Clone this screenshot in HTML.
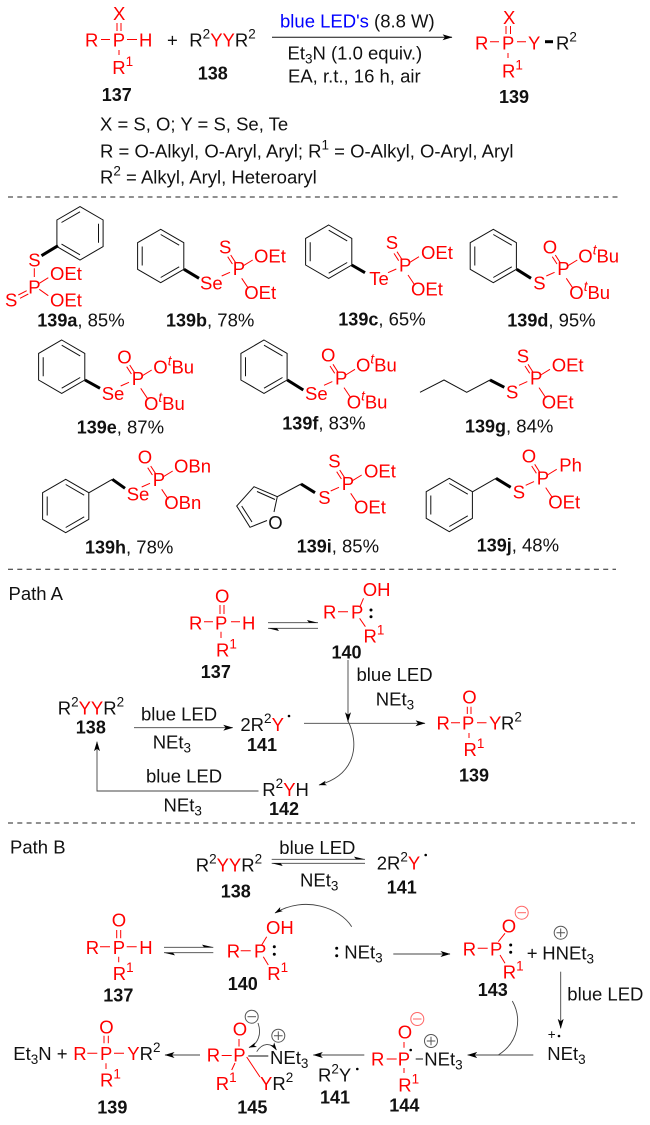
<!DOCTYPE html>
<html><head><meta charset="utf-8"><style>
html,body{margin:0;padding:0;background:#fff}
svg{display:block;filter:blur(.3px)}
text{font-family:"Liberation Sans",sans-serif;font-size:18.5px;fill:#111;white-space:pre}
.r,.r tspan{fill:#f00}
.r .k{fill:#111}
.b{font-weight:bold;font-size:18px}
.s{font-size:13.5px}
.l{stroke:#111;stroke-width:1;fill:none}
.g{stroke:#444;stroke-width:.9;fill:none}
.p{stroke:#f00;stroke-width:1;fill:none}
.w{stroke:#000;stroke-width:3;fill:none}
.d{stroke:#222;stroke-width:1;stroke-dasharray:5 4.3;fill:none}
</style></head><body>
<svg width="650" height="1125" viewBox="0 0 650 1125" xmlns="http://www.w3.org/2000/svg">
<defs>
<marker id="a" viewBox="0 0 10 6" refX="9.5" refY="3" markerWidth="10" markerHeight="6" markerUnits="userSpaceOnUse" orient="auto"><path d="M0 0L10 3L0 6L2.5 3z" fill="#000"/></marker>
<marker id="c" viewBox="0 0 10 6" refX="9.5" refY="3" markerWidth="8" markerHeight="5" markerUnits="userSpaceOnUse" orient="auto"><path d="M0 0L10 3L0 6L2.5 3z" fill="#000"/></marker>
<g id="bA"><path class="l" d="M0-26.7L23.1-13.3V13.3L0 26.7L-23.1 13.3V-13.3Z M0-21.5L18.5-10.8 M-18.5-9.5V9.5 M0 21.5L18.5 10.8"/></g>
<g id="bB"><path class="l" d="M0-26.7L23.1-13.3V13.3L0 26.7L-23.1 13.3V-13.3Z M0-21.5L-18.5-10.8 M18.5-9.5V9.5 M0 21.5L-18.5 10.8"/></g>
<path id="pg" class="p" d="M-5-18.3L-.3-11M-2-20L2.7-12.7M10.7-9.3L20-15M9 3.3L15.7 13.3M-11 1L-2.7-2.7"/>
</defs>

<!-- top scheme -->
<text class="r" x="85" y="46.500">R</text><text class="r" x="112.700" y="46.500">P</text><text class="r" x="139" y="46.500">H</text>
<text class="r" x="113" y="20">X</text>
<text class="r" x="112.300" y="74">R<tspan class="s" dy="-8">1</tspan></text>
<path class="p" d="M117 23V31M121 23V31M101 39.500H110M127 39.500H137M119 50V55"/>
<text class="b" x="101.700" y="101">137</text>
<text x="167" y="46.500">+</text>
<text x="189.300" y="46.500">R<tspan class="s" dy="-8">2</tspan><tspan class="r" dy="8">YY</tspan>R<tspan class="s" dy="-8">2</tspan></text>
<text class="b" x="197.700" y="79.300">138</text>
<path class="l" d="M272 37.300H452" marker-end="url(#a)"/>
<text x="280" y="27.700"><tspan style="fill:#00f">blue LED's</tspan> (8.8 W)</text>
<text x="287.500" y="59.300">Et<tspan class="s" dy="4">3</tspan><tspan dy="-4">N (1.0 equiv.)</tspan></text>
<text x="288" y="82.700">EA, r.t., 16 h, air</text>
<text class="r" x="475" y="49.300">R</text><text class="r" x="502" y="49.300">P</text><text class="r" x="528" y="49.300">Y</text>
<text class="r" x="503" y="24">X</text>
<text x="556" y="49.300">R<tspan class="s" dy="-8">2</tspan></text>
<text class="r" x="502" y="77.300">R<tspan class="s" dy="-8">1</tspan></text>
<path class="p" d="M506 26V34M510.500 26V34M490 41.700H499M517 41.700H526M508 53V58"/>
<path class="w" d="M545 41.700H553"/>
<text class="b" x="499" y="103">139</text>
<text x="100" y="130.700">X = S, O; Y = S, Se, Te</text>
<text x="100" y="157.300">R = O-Alkyl, O-Aryl, Aryl; R<tspan class="s" dy="-8">1</tspan><tspan dy="8"> = O-Alkyl, O-Aryl, Aryl</tspan></text>
<text x="100" y="183.300">R<tspan class="s" dy="-8">2</tspan><tspan dy="8"> = Alkyl, Aryl, Heteroaryl</tspan></text>
<path class="d" d="M8 197H618"/>

<!-- 139a -->
<use href="#bB" x="80" y="233.300"/>
<path class="w" d="M58 245.700L41.500 255.700"/>
<text class="r" x="28.300" y="266.700">S</text><text class="r" x="28.300" y="293.300">P</text>
<text class="r" x="50" y="280">OEt</text><text class="r" x="50" y="306.700">OEt</text><text class="r" x="5" y="306.700">S</text>
<path class="p" d="M34.300 268.300V277M39.300 283.300L48.300 277.700M39.300 289.300L48.300 295.700M18.300 295L26.700 290.700M20 298.300L28.300 294"/>
<text x="37.300" y="326.700"><tspan class="b">139a</tspan>, 85%</text>

<!-- 139b -->
<use href="#bA" x="160.700" y="256"/>
<path class="w" d="M184 269.300L199 278.300"/>
<use href="#pg" x="232.700" y="275"/>
<text class="r" x="200" y="289.300">Se</text><text class="r" x="232.700" y="275">P</text><text class="r" x="219" y="253.300">S</text>
<text class="r" x="254" y="262.300">OEt</text><text class="r" x="244.300" y="299">OEt</text>
<text x="166" y="326.700"><tspan class="b">139b</tspan>, 78%</text>

<!-- 139c -->
<use href="#bA" x="328.700" y="251.700"/>
<path class="w" d="M351.700 265L365 272.700"/>
<use href="#pg" x="399" y="271.700"/>
<text class="r" x="369.300" y="285">Te</text><text class="r" x="399" y="271.700">P</text><text class="r" x="385.700" y="249">S</text>
<text class="r" x="421" y="259">OEt</text><text class="r" x="411" y="295.700">OEt</text>
<text x="338.300" y="325.700"><tspan class="b">139c</tspan>, 65%</text>

<!-- 139d -->
<use href="#bA" x="493.300" y="256"/>
<path class="w" d="M516.700 269.300L531 278.300"/>
<use href="#pg" x="557.300" y="275"/>
<text class="r" x="533.300" y="289.300">S</text><text class="r" x="557.300" y="275">P</text><text class="r" x="542.700" y="253.300">O</text>
<text class="r" x="578.300" y="262.300">O<tspan class="s" dy="-8" font-style="italic">t</tspan><tspan dy="8">Bu</tspan></text>
<text class="r" x="569.300" y="299">O<tspan class="s" dy="-8" font-style="italic">t</tspan><tspan dy="8">Bu</tspan></text>
<text x="507.300" y="326.700"><tspan class="b">139d</tspan>, 95%</text>

<!-- 139e -->
<use href="#bA" x="61.700" y="366.700"/>
<path class="w" d="M85 380L100 388.300"/>
<use href="#pg" x="131.700" y="385"/>
<text class="r" x="101.700" y="400">Se</text><text class="r" x="131.700" y="385">P</text><text class="r" x="117.300" y="363.300">O</text>
<text class="r" x="153.300" y="373.300">O<tspan class="s" dy="-8" font-style="italic">t</tspan><tspan dy="8">Bu</tspan></text>
<text class="r" x="144" y="410">O<tspan class="s" dy="-8" font-style="italic">t</tspan><tspan dy="8">Bu</tspan></text>
<text x="76.700" y="433.300"><tspan class="b">139e</tspan>, 87%</text>

<!-- 139f -->
<use href="#bA" x="264" y="366.700"/>
<path class="w" d="M287.300 380L303.300 390"/>
<use href="#pg" x="335" y="384.300"/>
<text class="r" x="305" y="400">Se</text><text class="r" x="335" y="384.300">P</text><text class="r" x="321" y="361.700">O</text>
<text class="r" x="356" y="371.700">O<tspan class="s" dy="-8" font-style="italic">t</tspan><tspan dy="8">Bu</tspan></text>
<text class="r" x="346.700" y="408.300">O<tspan class="s" dy="-8" font-style="italic">t</tspan><tspan dy="8">Bu</tspan></text>
<text x="282.300" y="429.300"><tspan class="b">139f</tspan>, 83%</text>

<!-- 139g -->
<path class="l" d="M420 392.300L444 380L466.700 392.300L490 380"/>
<path class="w" d="M490 380L504.300 387.300"/>
<use href="#pg" x="530" y="384.300"/>
<text class="r" x="506" y="398.300">S</text><text class="r" x="530" y="384.300">P</text><text class="r" x="516.700" y="362.700">S</text>
<text class="r" x="551.700" y="371.700">OEt</text><text class="r" x="541.700" y="408.300">OEt</text>
<text x="465" y="432.700"><tspan class="b">139g</tspan>, 84%</text>

<!-- 139h -->
<use href="#bA" x="65.700" y="506"/>
<path class="l" d="M89 492.700L112.300 479.300"/>
<path class="w" d="M112.300 479.300L125 488.300"/>
<use href="#pg" x="152.700" y="486"/>
<text class="r" x="126.700" y="500.700">Se</text><text class="r" x="152.700" y="486">P</text><text class="r" x="137.700" y="463.300">O</text>
<text class="r" x="174" y="472.700">OBn</text><text class="r" x="164.300" y="509">OBn</text>
<text x="85" y="553.300"><tspan class="b">139h</tspan>, 78%</text>

<!-- 139i -->
<path class="l" d="M267 520.500L250 527.300L236.700 506L254 486.700L277.300 496.700L274 512M241.700 506L252 522M257 491.500L275 499.500M277.300 496.700L301 484"/>
<path class="w" d="M301 484L315 492.700"/>
<text x="268.300" y="529">O</text>
<use href="#pg" x="341.700" y="490"/>
<text class="r" x="318.300" y="504">S</text><text class="r" x="341.700" y="490">P</text><text class="r" x="328.300" y="467.300">S</text>
<text class="r" x="364" y="477.300">OEt</text><text class="r" x="354" y="513.300">OEt</text>
<text x="296.700" y="552.700"><tspan class="b">139i</tspan>, 85%</text>

<!-- 139j -->
<use href="#bA" x="449.300" y="505"/>
<path class="l" d="M472.700 491.700L496 478.300"/>
<path class="w" d="M496 478.300L510.700 487.300"/>
<use href="#pg" x="536.700" y="484.300"/>
<text class="r" x="512.700" y="498.300">S</text><text class="r" x="536.700" y="484.300">P</text><text class="r" x="521.700" y="462.300">O</text>
<text class="r" x="559.300" y="471.700">Ph</text><text class="r" x="548.300" y="508.300">OEt</text>
<text x="476.700" y="551.700"><tspan class="b">139j</tspan>, 48%</text>

<path class="d" d="M8 569.300H616"/>

<!-- Path A -->
<text x="8.500" y="600">Path A</text>
<text class="r" x="189" y="629.300">R</text><text class="r" x="215" y="629.300">P</text><text class="r" x="242" y="629.300">H</text>
<text class="r" x="215" y="602.300">O</text>
<text class="r" x="216" y="656.700">R<tspan class="s" dy="-8">1</tspan></text>
<path class="p" d="M220 605V614M224 605V614M204 621.700H213M231 621.700H240M221 631.700V638"/>
<text class="b" x="200.800" y="678">137</text>
<path class="g" d="M268 622.700H318M268 628.300H318"/>
<path d="M318 622.700L307 620L309 622.700Z M268 628.300L279 631L277 628.300Z" fill="#000"/>
<text class="r" x="323" y="618.300">R</text><text class="r" x="351" y="618.300">P</text><text class="r" x="362.700" y="596">OH</text>
<text class="r" x="363.500" y="642.700">R<tspan class="s" dy="-8">1</tspan></text>
<path class="p" d="M338 611.700H348M360 606.700L363.500 598.300M359.600 618.300L365.400 626.700"/>
<circle cx="371" cy="610" r="1.500" fill="#000"/><circle cx="371" cy="616.700" r="1.500" fill="#000"/>
<text class="b" x="331.500" y="658.300">140</text>
<path class="g" d="M348 660V721.700" marker-end="url(#a)"/>
<text x="356.500" y="681">blue LED</text>
<text x="375.800" y="705.700">NEt<tspan class="s" dy="4">3</tspan></text>
<text x="57.700" y="714.300">R<tspan class="s" dy="-8">2</tspan><tspan class="r" dy="8">YY</tspan>R<tspan class="s" dy="-8">2</tspan></text>
<text class="b" x="75.800" y="733.300">138</text>
<path class="g" d="M134 727.700H232.700" marker-end="url(#a)"/>
<text x="141" y="720.700">blue LED</text>
<text x="152.700" y="748.300">NEt<tspan class="s" dy="4">3</tspan></text>
<text x="240.400" y="731">2R<tspan class="s" dy="-8">2</tspan><tspan class="r" dy="8">Y</tspan></text>
<circle cx="289" cy="716" r="1.300" fill="#000"/>
<text class="b" x="247" y="751">141</text>
<path class="g" d="M304 723.300H425" marker-end="url(#a)"/>
<text class="r" x="436.500" y="729.300">R</text><text class="r" x="462" y="729.300">P</text><text class="r" x="489" y="729.300">Y</text>
<text x="501" y="729.300">R<tspan class="s" dy="-8">2</tspan></text>
<text class="r" x="462.300" y="703.300">O</text>
<text class="r" x="463.500" y="756">R<tspan class="s" dy="-8">1</tspan></text>
<path class="p" d="M467.300 706.700V714M471 706.700V714M451 722.700H460M477 722.700H486.500M469 733V738"/>
<text class="b" x="459" y="781.700">139</text>
<path class="g" d="M348 721C360 745 355 775 319 785" marker-end="url(#c)"/>
<text x="262.300" y="796">R<tspan class="s" dy="-8">2</tspan><tspan class="r" dy="8">Y</tspan>H</text>
<text class="b" x="269" y="815">142</text>
<path class="g" d="M258.500 791H97V741.700" marker-end="url(#a)"/>
<text x="146" y="782.700">blue LED</text>
<text x="163.500" y="811.700">NEt<tspan class="s" dy="4">3</tspan></text>

<path class="d" d="M8 823H635"/>

<!-- Path B -->
<text x="10" y="853.300">Path B</text>
<text x="195.700" y="871.700">R<tspan class="s" dy="-8">2</tspan><tspan class="r" dy="8">YY</tspan>R<tspan class="s" dy="-8">2</tspan></text>
<text class="b" x="220.700" y="897.300">138</text>
<path class="g" d="M271.700 859.300H365M271.700 863.300H365"/>
<path d="M365 859.300L354 856.600L356 859.300Z M271.700 863.300L282.700 866L280.700 863.300Z" fill="#000"/>
<text x="279.300" y="854">blue LED</text>
<text x="300" y="886.700">NEt<tspan class="s" dy="4">3</tspan></text>
<text x="376.700" y="869.300">2R<tspan class="s" dy="-8">2</tspan><tspan class="r" dy="8">Y</tspan></text>
<circle cx="425.700" cy="855" r="1.300" fill="#000"/>
<text class="b" x="386.700" y="893.300">141</text>

<text class="r" x="85.700" y="954">R</text><text class="r" x="112.700" y="954">P</text><text class="r" x="139.300" y="954">H</text>
<text class="r" x="111.700" y="926.700">O</text>
<text class="r" x="112.700" y="980">R<tspan class="s" dy="-8">1</tspan></text>
<path class="p" d="M116.700 930V938.300M120.700 930V938.300M100 946.700H110M126.700 946.700H136.700M118.700 956.700V962.300"/>
<text class="b" x="103.300" y="1001.700">137</text>
<path class="g" d="M164 947.300H213.300M164 952.700H213.300"/>
<path d="M213.300 947.300L202 944.600L204 947.300Z M164 952.700L175 955.400L173 952.700Z" fill="#000"/>
<text class="r" x="226.700" y="957.300">R</text><text class="r" x="254" y="957.300">P</text><text class="r" x="266" y="934">OH</text>
<text class="r" x="267.300" y="980">R<tspan class="s" dy="-8">1</tspan></text>
<path class="p" d="M240.700 950.700H250.700M261.700 945L266.700 936.700M263.300 956.700L268.300 965"/>
<circle cx="274.300" cy="946.700" r="1.500" fill="#000"/><circle cx="274.300" cy="954.300" r="1.500" fill="#000"/>
<text class="b" x="227.700" y="990">140</text>
<path class="g" d="M351.700 926.700C340 908 305 895 275 913" marker-end="url(#c)"/>
<circle cx="336.700" cy="948.300" r="1.500" fill="#000"/><circle cx="336.700" cy="955.700" r="1.500" fill="#000"/>
<text x="344.300" y="958.300">NEt<tspan class="s" dy="4">3</tspan></text>
<path class="g" d="M393.300 954H450" marker-end="url(#a)"/>

<text class="r" x="462.700" y="955.700">R</text><text class="r" x="490" y="955.700">P</text><text class="r" x="501.700" y="932.300">O</text>
<text class="r" x="502.700" y="978.300">R<tspan class="s" dy="-8">1</tspan></text>
<path class="p" d="M477.700 948.300H487.700M498.300 941.700L505 933.300M500 955L505 963.300"/>
<circle cx="521.700" cy="912.700" r="6.500" fill="none" stroke="#f66" stroke-width="1"/><path stroke="#f66" d="M517.500 912.700H526"/>
<circle cx="510.700" cy="945" r="1.500" fill="#000"/><circle cx="510.700" cy="952.300" r="1.500" fill="#000"/>
<text class="b" x="477.700" y="996">143</text>
<text x="526.700" y="959.300">+</text>
<text x="542.300" y="959.300">HNEt<tspan class="s" dy="4">3</tspan></text>
<circle cx="560.700" cy="932.700" r="6.500" fill="none" stroke="#555" stroke-width="1"/><path stroke="#555" d="M556.500 932.700H565M560.700 928.500V937"/>
<path class="g" d="M560.700 971.700V1028.300" marker-end="url(#a)"/>
<text x="567.300" y="1000.700">blue LED</text>
<text class="s" x="547.700" y="1039">+</text>
<circle cx="559" cy="1036" r="1.300" fill="#000"/>
<text x="547.300" y="1060">NEt<tspan class="s" dy="4">3</tspan></text>
<path class="g" d="M533.300 1055H467.700" marker-end="url(#a)"/>
<path class="g" d="M512.300 1001C522 1018 519 1042 498.300 1055"/>

<text class="r" x="371" y="1065.700">R</text><text class="r" x="397.700" y="1065.700">P</text><text class="r" x="397.700" y="1038.300">O</text>
<text class="r" x="398.300" y="1091.700">R<tspan class="s" dy="-8">1</tspan></text>
<path class="p" d="M386.700 1059H396.700M404 1042V1047.700M404 1068V1073"/>
<path class="l" d="M415.700 1059H423"/>
<circle cx="410.700" cy="1050" r="1.300" fill="#000"/>
<circle cx="417.300" cy="1019" r="6.500" fill="none" stroke="#f66"/><path stroke="#f66" d="M413 1019H421.500"/>
<circle cx="431" cy="1041" r="6.500" fill="none" stroke="#555"/><path stroke="#555" d="M426.800 1041H435.300M431 1036.800V1045.300"/>
<text x="424.300" y="1065.700">NEt<tspan class="s" dy="4">3</tspan></text>
<text class="b" x="389.300" y="1111.700">144</text>
<path class="g" d="M364.300 1055H313.300" marker-end="url(#a)"/>
<text x="318" y="1081.700">R<tspan class="s" dy="-8">2</tspan><tspan dy="8">Y</tspan></text>
<circle cx="357.300" cy="1069" r="1.300" fill="#000"/>
<text class="b" x="320" y="1103.300">141</text>

<text class="r" x="206.700" y="1061.700">R</text><text class="r" x="233.300" y="1061.700">P</text><text class="r" x="232.700" y="1035.700">O</text>
<text class="r" x="215.700" y="1090">R<tspan class="s" dy="-8">1</tspan></text>
<text class="r" x="260" y="1090">Y<tspan class="k">R</tspan><tspan class="s k" dy="-8">2</tspan></text>
<path class="p" d="M221.700 1055.500H231.700M239 1039V1046.500M235 1063L231.700 1070M246.700 1057L260 1077"/>
<path class="l" d="M248.300 1056H268.300"/>
<text x="270" y="1064">NEt<tspan class="s" dy="4">3</tspan></text>
<circle cx="251.700" cy="1016.700" r="6.500" fill="none" stroke="#555"/><path stroke="#555" d="M247.500 1016.700H256"/>
<circle cx="278.300" cy="1035.700" r="6.500" fill="none" stroke="#555"/><path stroke="#555" d="M274 1035.700H282.600M278.300 1031.400V1040"/>
<path class="g" d="M258 1023C262 1034 258 1044 249 1047.500" marker-end="url(#c)"/>
<path class="g" d="M256.700 1051.700C262 1043 271 1042 276.500 1050" marker-end="url(#c)"/>
<text class="b" x="237.300" y="1113.300">145</text>
<path class="g" d="M200 1055H165" marker-end="url(#a)"/>

<text x="13.300" y="1060">Et<tspan class="s" dy="4">3</tspan><tspan dy="-4">N +</tspan></text>
<text class="r" x="73.300" y="1060">R</text><text class="r" x="100" y="1060">P</text><text class="r" x="127.300" y="1060">Y<tspan class="k">R</tspan><tspan class="s k" dy="-8">2</tspan></text>
<text class="r" x="99.300" y="1033.300">O</text>
<text class="r" x="100" y="1086.700">R<tspan class="s" dy="-8">1</tspan></text>
<path class="p" d="M104 1035.700V1043.300M108.300 1035.700V1043.300M87.300 1053.300H97.300M114 1053.300H124M106 1063.300V1069"/>
<text class="b" x="97.300" y="1113.300">139</text>
</svg>
</body></html>
